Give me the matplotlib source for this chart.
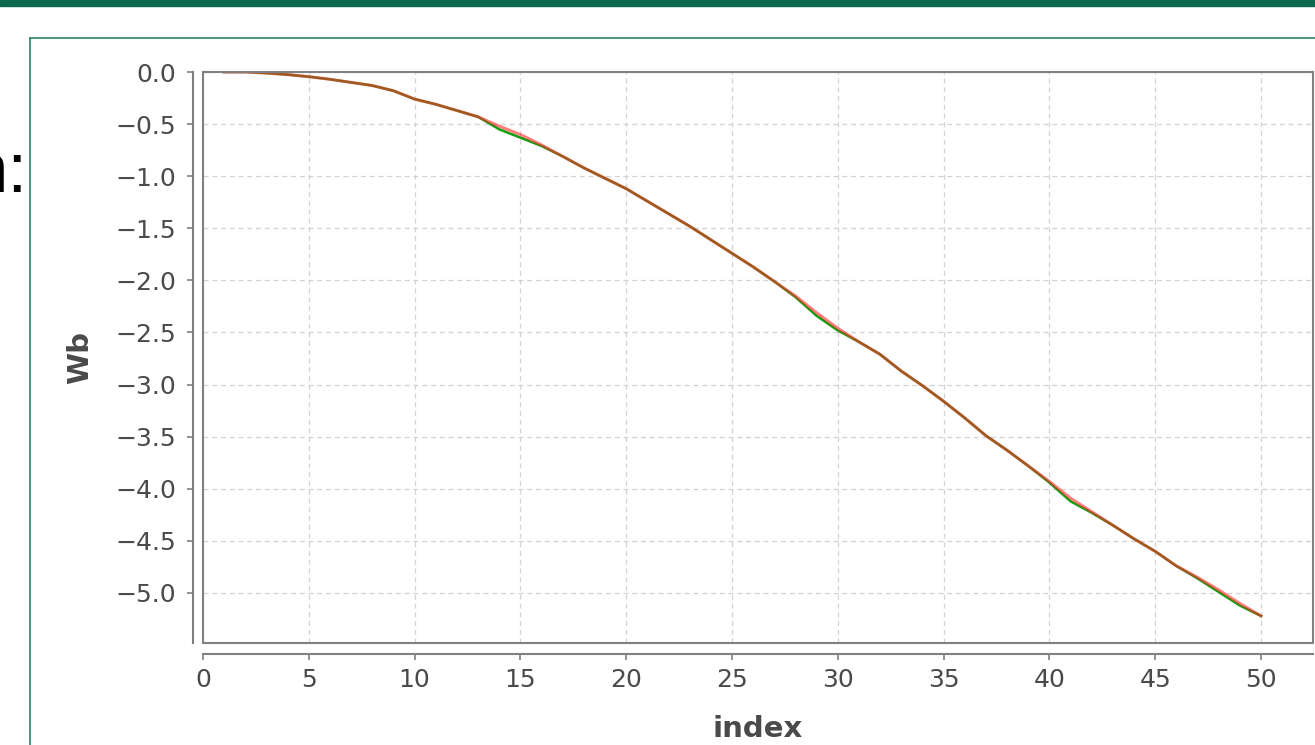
import numpy as np
from matplotlib import pyplot as plt
from matplotlib.patches import Rectangle
from matplotlib.lines import Line2D

# values, index 1..50
index = np.arange(1, 51)
wb_red = [0.0, 0.0, -0.01, -0.025, -0.045, -0.07, -0.10, -0.13, -0.18, -0.26,
          -0.31, -0.37, -0.43, -0.52, -0.60, -0.70, -0.81, -0.92, -1.02, -1.12,
          -1.24, -1.36, -1.48, -1.61, -1.74, -1.87, -2.01, -2.15, -2.31, -2.46,
          -2.59, -2.71, -2.87, -3.01, -3.16, -3.32, -3.49, -3.63, -3.78, -3.93,
          -4.09, -4.22, -4.35, -4.48, -4.60, -4.74, -4.85, -4.97, -5.10, -5.22]
wb_green = [0.0, 0.0, -0.01, -0.025, -0.045, -0.07, -0.10, -0.13, -0.18, -0.26,
            -0.31, -0.37, -0.43, -0.55, -0.63, -0.71, -0.81, -0.92, -1.02, -1.12,
            -1.24, -1.36, -1.48, -1.61, -1.74, -1.87, -2.01, -2.16, -2.34, -2.48,
            -2.59, -2.71, -2.87, -3.01, -3.16, -3.32, -3.49, -3.63, -3.78, -3.94,
            -4.12, -4.23, -4.35, -4.48, -4.60, -4.74, -4.86, -4.99, -5.12, -5.22]
x_ticks = np.arange(0, 51, 5)
y_ticks = np.arange(0, -5.01, -0.5)

W, H = 1315, 745
fig = plt.figure(figsize=(W / 100, H / 100), dpi=100)
fig.patch.set_facecolor('white')

# slide decoration: top bar, panel border, cut-off caption
fig.patches.append(Rectangle((0, 1 - 6 / H), 1, 6 / H, transform=fig.transFigure,
                             color='#0b6a4e', zorder=0))
fig.lines.append(Line2D([30 / W, 1], [1 - 38 / H, 1 - 38 / H], transform=fig.transFigure,
                        color='#2b8467', lw=1.2))
fig.lines.append(Line2D([30 / W, 30 / W], [0, 1 - 38 / H], transform=fig.transFigure,
                        color='#2b8467', lw=1.2))
fig.text(27 / W, 1 - 192 / H, 'n:', ha='right', va='baseline', fontsize=51,
         family='Liberation Sans', color='black')

gray = '#808080'
txt = '#4a4a4a'
ax = fig.add_axes([203 / W, 1 - 643 / H, 1110 / W, 571 / H])
ax.plot(index, wb_green, color='#10a010', lw=1.8, zorder=3)
ax.plot(index, wb_red, color='#ff2a2a', lw=2.2, alpha=0.6, zorder=4)

ax.set_xlim(0, 52.46)
ax.set_ylim(-5.48, 0)
ax.set_xticks(x_ticks)
ax.set_yticks(y_ticks)
ax.set_yticklabels([f'{v:.1f}'.replace('-', '\u2212') if v != 0 else '0.0' for v in y_ticks])

ax.grid(True, color='#d2d2d2', lw=0.9, linestyle=(0, (4, 3)))
ax.set_axisbelow(True)

for s in ['top', 'right']:
    ax.spines[s].set_visible(False)
ax.spines['left'].set_position(('outward', 7.2))
ax.spines['bottom'].set_position(('outward', 7.9))
for s in ['left', 'bottom']:
    ax.spines[s].set_color(gray)
    ax.spines[s].set_linewidth(1.5)
ax.add_patch(Rectangle((0, 0), 1, 1, transform=ax.transAxes, fill=False,
                       edgecolor=gray, lw=1.5, clip_on=False, zorder=5))

ax.tick_params(direction='out', length=4, width=1.2, color=gray,
               labelsize=18, labelcolor=txt)
ax.tick_params(axis='y', pad=8)
ax.tick_params(axis='x', pad=6)

fig.text(80 / W, 1 - 358 / H, 'Wb', rotation=90, ha='center', va='center',
         fontsize=21, fontweight='bold', color=txt)
fig.text(758 / W, 1 - 737 / H, 'index', ha='center', va='baseline',
         fontsize=21, fontweight='bold', color=txt)

fig.savefig('out.png', dpi=100)
